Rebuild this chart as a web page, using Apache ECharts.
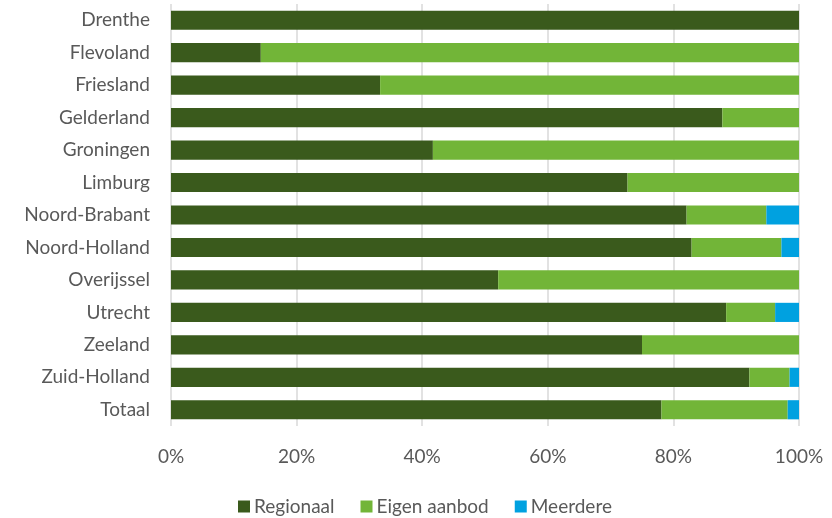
<!DOCTYPE html>
<html><head><meta charset="utf-8">
<script src="https://cdn.jsdelivr.net/npm/echarts@6/dist/echarts.min.js"></script>
<style>html,body{margin:0;padding:0;background:#fff}#c{width:832px;height:518px}</style>
</head><body><div id="c"></div>
<script>
const categories = ['Drenthe','Flevoland','Friesland','Gelderland','Groningen','Limburg','Noord-Brabant','Noord-Holland','Overijssel','Utrecht','Zeeland','Zuid-Holland','Totaal'];
const regionaal   = [100, 14.3, 33.3, 87.8, 41.7, 72.7, 82.1, 82.9, 52.1, 88.4, 75.0, 92.1, 78.1];
const eigenAanbod = [0, 85.7, 66.7, 12.2, 58.3, 27.3, 12.7, 14.3, 47.9, 7.8, 25.0, 6.4, 20.1];
const meerdere    = [0, 0, 0, 0, 0, 0, 5.2, 2.8, 0, 3.8, 0, 1.5, 1.8];
const xTicks = [0, 20, 40, 60, 80, 100];

const font = 'Lato';
const chart = echarts.init(document.getElementById('c'), null, {renderer:'canvas'});
const mk = (name, data, color) => ({
  name, type:'bar', stack:'s', data, barCategoryGap:'41%',
  itemStyle:{color}, emphasis:{disabled:true}
});
chart.setOption({
  animation:false,
  textStyle:{fontFamily:font},
  grid:{left:171, right:33, top:4, height:422, containLabel:false},
  xAxis:{type:'value', min:0, max:100, interval:20,
    axisLabel:{formatter:v=>xTicks.includes(v)?v+'%':'', color:'#595959', fontSize:19, margin:21, fontFamily:font},
    axisLine:{show:false}, axisTick:{show:false},
    splitLine:{show:true, lineStyle:{color:'#d9d9d9', width:1.5}}},
  yAxis:{type:'category', data:categories, inverse:true,
    axisLabel:{color:'#595959', fontSize:19, margin:21, fontFamily:font},
    axisLine:{show:false}, axisTick:{show:false}},
  legend:{top:497, left:238, padding:0, itemWidth:12, itemHeight:12, itemGap:26, icon:'rect',
    textStyle:{color:'#595959', fontSize:19, fontFamily:font, padding:[0,0,0,-1]},
    data:['Regionaal','Eigen aanbod','Meerdere']},
  series:[
    mk('Regionaal', regionaal, '#3a5a1c'),
    mk('Eigen aanbod', eigenAanbod, '#72b538'),
    mk('Meerdere', meerdere, '#00a1e0')
  ]
});
</script></body></html>
